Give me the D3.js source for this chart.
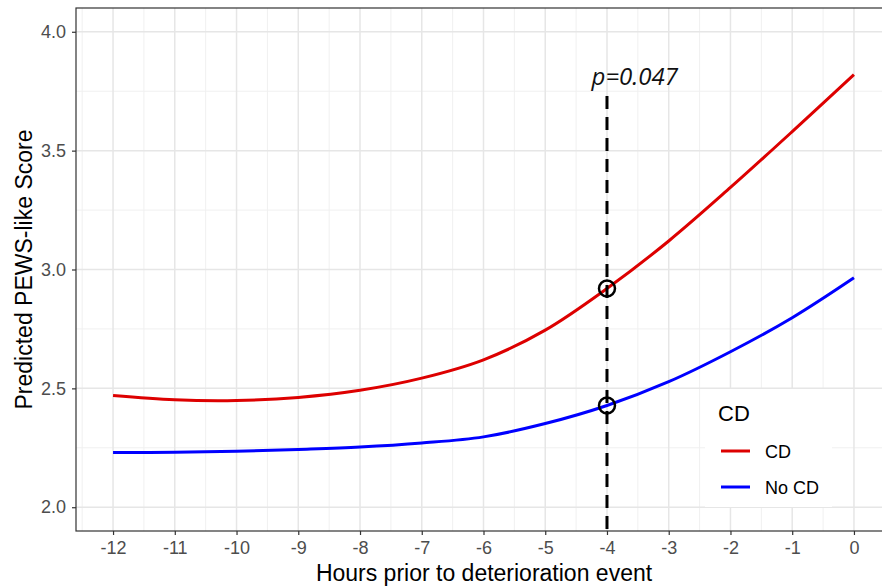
<!DOCTYPE html>
<html>
<head>
<meta charset="utf-8">
<script src="https://cdn.jsdelivr.net/npm/d3@7"></script>
<style>
  body { margin: 0; background: #fff; }
  svg { display: block; font-family: "Liberation Sans", Arial, sans-serif; }
</style>
</head>
<body>
<svg id="chart" width="882" height="587"></svg>
<script>
// Data
const hours = [-12, -11, -10, -9, -8, -7, -6, -5, -4, -3, -2, -1, 0];
const cdScore = [2.470, 2.452, 2.449, 2.462, 2.492, 2.543, 2.620, 2.745, 2.920, 3.120, 3.345, 3.580, 3.820];
const noCdScore = [2.230, 2.231, 2.235, 2.243, 2.253, 2.270, 2.296, 2.352, 2.428, 2.528, 2.654, 2.797, 2.965];
const seriesNames = ["CD", "No CD"];
const seriesColors = ["#DD0000", "#0000FF"];
const xTicks = [-12, -11, -10, -9, -8, -7, -6, -5, -4, -3, -2, -1, 0];
const yTicks = [2.0, 2.5, 3.0, 3.5, 4.0];
const markHour = -4;
const pLabel = "p=0.047";

// Chart setup
const svg = d3.select("#chart");
const pLeft = 76, pRight = 891, pTop = 8, pBottom = 531;

const x = d3.scaleLinear().domain([-12.6, 0.6]).range([pLeft, pRight]);
const y = d3.scaleLinear().domain([1.9, 4.1]).range([pBottom, pTop]);

// Clip everything to the panel
svg.append("defs").append("clipPath").attr("id", "panel")
  .append("rect").attr("x", pLeft).attr("y", pTop)
  .attr("width", pRight - pLeft).attr("height", pBottom - pTop);

const panel = svg.append("g").attr("clip-path", "url(#panel)");

// Grid lines (minor then major)
const xMinor = xTicks.map(d => d - 0.5).concat([0.5]);
const yMinor = yTicks.slice(0, -1).map(d => d + 0.25);

panel.append("g").selectAll("line").data(xMinor).join("line")
  .attr("x1", d => x(d)).attr("x2", d => x(d)).attr("y1", pTop).attr("y2", pBottom)
  .attr("stroke", "#F0F0F0").attr("stroke-width", 1);
panel.append("g").selectAll("line").data(yMinor).join("line")
  .attr("y1", d => y(d)).attr("y2", d => y(d)).attr("x1", pLeft).attr("x2", pRight)
  .attr("stroke", "#F0F0F0").attr("stroke-width", 1);
panel.append("g").selectAll("line").data(xTicks).join("line")
  .attr("x1", d => x(d)).attr("x2", d => x(d)).attr("y1", pTop).attr("y2", pBottom)
  .attr("stroke", "#E6E6E6").attr("stroke-width", 1.5);
panel.append("g").selectAll("line").data(yTicks).join("line")
  .attr("y1", d => y(d)).attr("y2", d => y(d)).attr("x1", pLeft).attr("x2", pRight)
  .attr("stroke", "#E6E6E6").attr("stroke-width", 1.5);

// Curves
const series = [cdScore, noCdScore].map((vals, i) => ({
  name: seriesNames[i],
  color: seriesColors[i],
  values: hours.map((h, j) => ({ h: h, v: vals[j] }))
}));

const line = d3.line().x(d => x(d.h)).y(d => y(d.v)).curve(d3.curveCatmullRom);

panel.append("g").selectAll("path").data(series).join("path")
  .attr("d", d => line(d.values))
  .attr("fill", "none")
  .attr("stroke", d => d.color)
  .attr("stroke-width", 3);

// Dashed marker line at -4 h
panel.append("line")
  .attr("x1", x(markHour)).attr("x2", x(markHour))
  .attr("y1", y(3.73)).attr("y2", pBottom)
  .attr("stroke", "#000").attr("stroke-width", 3)
  .attr("stroke-dasharray", "13,8");

// Circles where the curves cross the marker
const markIdx = hours.indexOf(markHour);
panel.append("g").selectAll("circle").data(series).join("circle")
  .attr("cx", x(markHour))
  .attr("cy", d => y(d.values[markIdx].v))
  .attr("r", 8)
  .attr("fill", "none")
  .attr("stroke", "#000")
  .attr("stroke-width", 2.5);

// p-value label
svg.append("text")
  .attr("x", x(-3.55)).attr("y", y(3.775))
  .attr("text-anchor", "middle")
  .style("font-family", "'Open Sans', sans-serif")
  .style("font-style", "italic")
  .style("font-size", "24px")
  .attr("fill", "#111")
  .text(pLabel);

// Legend inside the panel
const lg = svg.append("g");
lg.append("rect").attr("x", 705).attr("y", 389).attr("width", 127).attr("height", 118)
  .attr("fill", "#fff");
lg.append("text").attr("x", 718).attr("y", 421)
  .style("font-size", "22px").attr("fill", "#000").text("CD");
const item = lg.selectAll("g.item").data(series).join("g")
  .attr("class", "item")
  .attr("transform", (d, i) => `translate(0,${451 + i * 36})`);
item.append("line").attr("x1", 721).attr("x2", 750)
  .attr("stroke", d => d.color).attr("stroke-width", 3);
item.append("text").attr("x", 765).attr("y", 6.5)
  .style("font-size", "18px").attr("fill", "#000").text(d => d.name);

// Panel border
svg.append("rect")
  .attr("x", pLeft).attr("y", pTop)
  .attr("width", pRight - pLeft).attr("height", pBottom - pTop)
  .attr("fill", "none").attr("stroke", "#333").attr("stroke-width", 1.2);

// Axes
const xAxis = svg.append("g").attr("transform", `translate(0,${pBottom})`)
  .call(d3.axisBottom(x).tickValues(xTicks).tickFormat(d => String(d)).tickSize(4).tickPadding(6));
const yAxis = svg.append("g").attr("transform", `translate(${pLeft},0)`)
  .call(d3.axisLeft(y).tickValues(yTicks).tickFormat(d => d.toFixed(1)).tickSize(4).tickPadding(6));

[xAxis, yAxis].forEach(a => {
  a.select(".domain").remove();
  a.selectAll(".tick line").attr("stroke", "#333").attr("stroke-width", 1.2);
  a.selectAll(".tick text").attr("fill", "#4D4D4D")
    .style("font-size", "18px").style("font-family", "'Liberation Sans', Arial, sans-serif");
});

// Axis titles
svg.append("text")
  .attr("x", 484).attr("y", 581)
  .attr("text-anchor", "middle")
  .style("font-size", "23px").attr("fill", "#000")
  .text("Hours prior to deterioration event");

svg.append("text")
  .attr("transform", `translate(32,${(pTop + pBottom) / 2}) rotate(-90)`)
  .attr("text-anchor", "middle")
  .style("font-size", "23px").attr("fill", "#000")
  .text("Predicted PEWS-like Score");
</script>
</body>
</html>
